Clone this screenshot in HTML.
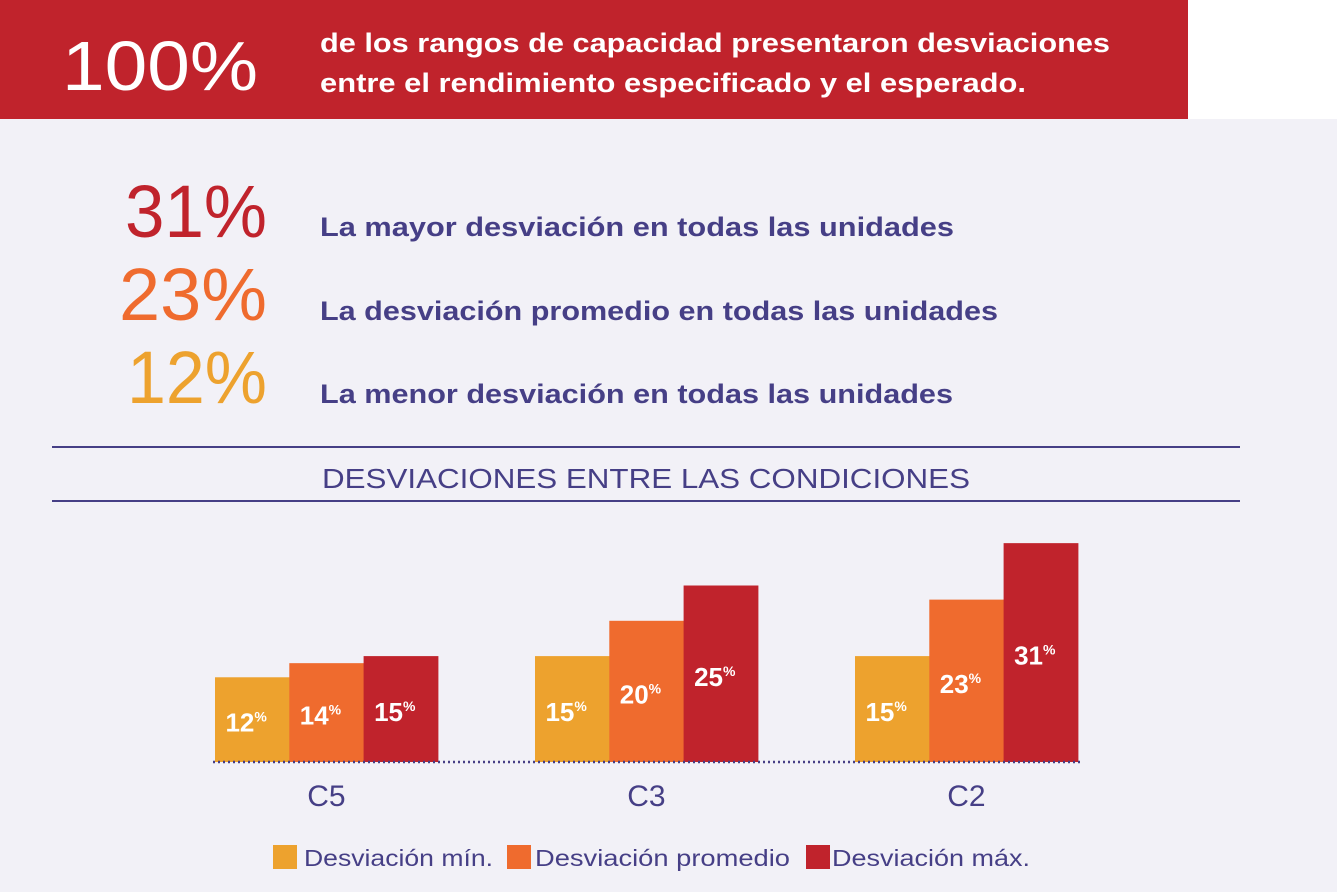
<!DOCTYPE html>
<html><head><meta charset="utf-8"><style>
body{margin:0;width:1337px;height:892px;overflow:hidden;background:#f2f1f7}
svg{display:block;font-family:"Liberation Sans",sans-serif}
</style></head><body>
<svg id="chart" width="1337" height="892" viewBox="0 0 1337 892">
<rect x="0" y="0" width="1337" height="892" fill="#f2f1f7"/>
<rect x="1188" y="0" width="149" height="119" fill="#ffffff"/>
<rect x="0" y="0" width="1188" height="119" fill="#c0232c"/>
<text x="62" y="90" font-size="70" fill="#fff" textLength="196" lengthAdjust="spacingAndGlyphs">100%</text>
<text x="320" y="52" font-size="27" font-weight="bold" fill="#fff" textLength="790" lengthAdjust="spacingAndGlyphs">de los rangos de capacidad presentaron desviaciones</text>
<text x="320" y="92" font-size="27" font-weight="bold" fill="#fff" textLength="706" lengthAdjust="spacingAndGlyphs">entre el rendimiento especificado y el esperado.</text>

<text x="267" y="237" font-size="74" text-anchor="end" fill="#c0232c" textLength="142" lengthAdjust="spacingAndGlyphs">31%</text>
<text x="320" y="236" font-size="27" font-weight="bold" fill="#463f86" textLength="634" lengthAdjust="spacingAndGlyphs">La mayor desviación en todas las unidades</text>
<text x="267" y="320" font-size="74" text-anchor="end" fill="#ef6b2e" textLength="148" lengthAdjust="spacingAndGlyphs">23%</text>
<text x="320" y="320" font-size="27" font-weight="bold" fill="#463f86" textLength="678" lengthAdjust="spacingAndGlyphs">La desviación promedio en todas las unidades</text>
<text x="267" y="403" font-size="74" text-anchor="end" fill="#eda22e" textLength="140" lengthAdjust="spacingAndGlyphs">12%</text>
<text x="320" y="403" font-size="27" font-weight="bold" fill="#463f86" textLength="633" lengthAdjust="spacingAndGlyphs">La menor desviación en todas las unidades</text>

<line x1="52" y1="447" x2="1240" y2="447" stroke="#463f86" stroke-width="2"/>
<text x="322" y="488" font-size="28" fill="#463f86" textLength="648" lengthAdjust="spacingAndGlyphs">DESVIACIONES ENTRE LAS CONDICIONES</text>
<line x1="52" y1="501" x2="1240" y2="501" stroke="#463f86" stroke-width="2"/>
<g id="bars"></g>
<line x1="213" y1="762" x2="1080" y2="762" stroke="#463f86" stroke-width="2.5" stroke-dasharray="2,3"/>

<rect x="273" y="845" width="24" height="24" fill="#eda22e"/>
<text x="304" y="866" font-size="23" fill="#463f86" textLength="189" lengthAdjust="spacingAndGlyphs">Desviación mín.</text>
<rect x="507" y="845" width="24" height="24" fill="#ef6b2e"/>
<text x="535" y="866" font-size="23" fill="#463f86" textLength="255" lengthAdjust="spacingAndGlyphs">Desviación promedio</text>
<rect x="806" y="845" width="24" height="24" fill="#c0232c"/>
<text x="832" y="866" font-size="23" fill="#463f86" textLength="198" lengthAdjust="spacingAndGlyphs">Desviación máx.</text>
</svg>
<script>
const categories = ["C5", "C3", "C2"];
const minValues = [12, 15, 15];
const avgValues = [14, 20, 23];
const maxValues = [15, 25, 31];
const seriesNames = ["min", "avg", "max"];
const colors = ["#eda22e", "#ef6b2e", "#c0232c"];

const baseY = 762, pxPerPct = 7.06;
function yScale(v){ return baseY - v * pxPerPct; }
function groupX(i){ return 215 + i * 320; }
const barW = 74.3;
const NS = "http://www.w3.org/2000/svg";
const g = document.getElementById("bars");
const series = [minValues, avgValues, maxValues];
categories.forEach(function(cat, i){
  series.forEach(function(vals, s){
    const v = vals[i];
    const x = groupX(i) + s * barW;
    const r = document.createElementNS(NS, "rect");
    r.setAttribute("x", x); r.setAttribute("y", yScale(v));
    r.setAttribute("width", barW + 0.5); r.setAttribute("height", baseY - yScale(v));
    r.setAttribute("fill", colors[s]);
    
    
    g.appendChild(r);
    const t = document.createElementNS(NS, "text");
    t.setAttribute("x", x + barW/2 - 6);
    t.setAttribute("y", (yScale(v) + baseY)/2 + 12);
    t.setAttribute("text-anchor", "middle");
    t.setAttribute("fill", "#fff");
    t.setAttribute("font-size", "26");
    t.setAttribute("font-weight", "bold");
    
    
    t.textContent = v;
    const sp = document.createElementNS(NS, "tspan");
    sp.setAttribute("font-size", "14");
    sp.setAttribute("dy", "-10");
    sp.textContent = "%";
    t.appendChild(sp);
    g.appendChild(t);
  });
  const c = document.createElementNS(NS, "text");
  c.setAttribute("x", groupX(i) + 1.5 * barW);
  c.setAttribute("y", 806);
  c.setAttribute("text-anchor", "middle");
  c.setAttribute("fill", "#463f86");
  c.setAttribute("font-size", "30");
  
  
  c.textContent = cat;
  g.appendChild(c);
});
</script>
</body></html>
